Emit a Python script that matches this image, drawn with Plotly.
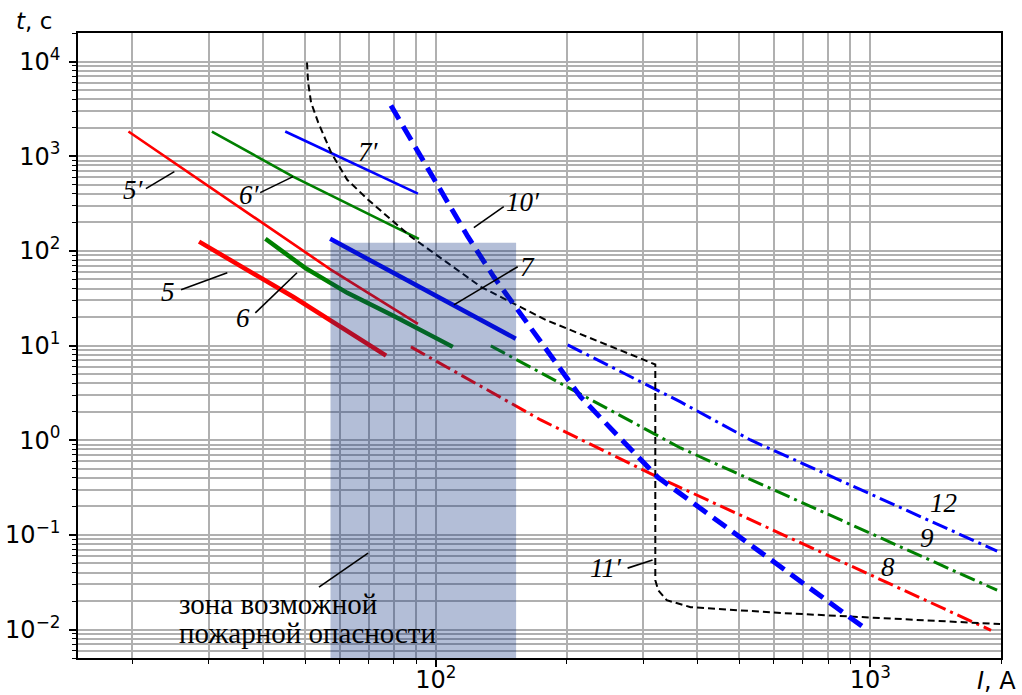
import numpy as np
import plotly.graph_objects as go

# Time-current characteristics: current I (A) and time t (s)
I_5p = [19.6, 57.4, 90.9]
t_5p = [1820, 63, 16.9]
I_5 = [28.5, 47.0, 76.8]
t_5 = [125, 32.5, 7.8]
I_6p = [30.5, 46.9, 80.1, 91.4]
t_6p = [1820, 608, 180, 134]
I_6 = [40.5, 50.0, 62.5, 80.0, 109.4]
t_6 = [134, 66.0, 36.0, 20.5, 9.67]
I_7p = [45.0, 90.9]
t_7p = [1820, 402]
I_7 = [57.1, 110.0, 152.7]
t_7 = [134, 26.9, 11.8]
I_8 = [87.6, 174.3, 323.8, 1897]
t_8 = [9.67, 1.635, 0.408, 0.0098]
I_9 = [133.8, 174.3, 365.8, 1959]
t_9 = [9.92, 5.14, 0.827, 0.026]
I_12 = [201.1, 365.8, 529.8, 1959]
t_12 = [10.16, 2.535, 1.005, 0.0673]
I_10p = [78.8, 118.5, 135.9, 183.8, 215.4, 323.8, 963.6]
t_10p = [3424, 141, 53.2, 7.59, 2.86, 0.408, 0.0106]
I_11p = [50.5, 50.8, 51.6, 53.6, 57.4, 62.5, 69.8, 78.6, 87.6, 106.0, 126.9, 179.6, 320,
         320, 325, 340, 386, 631, 1990]
t_11p = [9760, 6000, 3690, 2264, 1090, 563, 347, 214, 141, 75.5, 41.7, 18.5, 6.3,
         0.0332, 0.026, 0.0204, 0.0172, 0.0149, 0.0114]

# Fire-hazard zone (current band and upper time bound)
ZONE_I = [57.2, 153]
ZONE_T_TOP = 122

# Axis limits
I_RANGE = [15, 2000]
T_RANGE = [0.005, 20000]

# Curve labels: text, I, t
LABELS = [
    ("5′", 20.1, 443), ("6′", 37.2, 392), ("7′", 69.8, 1117), ("10′", 158.5, 331),
    ("7", 162.7, 68), ("5", 24.2, 36.9), ("6", 36.0, 19.6), ("11′", 246, 0.0445),
    ("12", 1472, 0.217), ("9", 1352, 0.0924), ("8", 1100, 0.0456),
]
# Leader lines: (I0, I1), (t0, t1)
LEADERS = [
    ((21.5, 25.0), (454, 686)),
    ((39.4, 46.9), (412, 608)),
    ((143.3, 122.3), (293, 175.5)),
    ((154.3, 110.0), (67.9, 26.9)),
    ((25.9, 33.1), (38.8, 58.7)),
    ((38.4, 47.9), (22.1, 58.7)),
    ((276.3, 315.4), (0.0445, 0.0541)),
    ((53.8, 69.8), (0.028, 0.0641)),
]
ZONE_LINES = ["зона возможной", "пожарной опасности"]
ZONE_TEXT_I = 26.1
ZONE_TEXT_T = [0.0187, 0.00924]

RED, GREEN, BLUE = "rgb(255,0,0)", "rgb(0,128,0)", "rgb(0,0,255)"
DASHDOT = "16px,5px,3px,5px"

fig = go.Figure()


def curve(I, t, color, width, dash="solid"):
    fig.add_trace(go.Scatter(x=I, y=t, mode="lines",
                             line=dict(color=color, width=width, dash=dash),
                             hoverinfo="skip", showlegend=False))


curve(I_5p, t_5p, RED, 2.6)
curve(I_5, t_5, RED, 4.5)
curve(I_6p, t_6p, GREEN, 2.6)
curve(I_6, t_6, GREEN, 4.5)
curve(I_7p, t_7p, BLUE, 2.6)
curve(I_7, t_7, BLUE, 4.5)
curve(I_8, t_8, RED, 3, DASHDOT)
curve(I_9, t_9, GREEN, 3, DASHDOT)
curve(I_12, t_12, BLUE, 3, DASHDOT)
curve(I_11p, t_11p, "black", 2, "7px,4px")
curve(I_10p, t_10p, BLUE, 5, "16px,8px")

# translucent zone drawn over the curves
fig.add_trace(go.Scatter(
    x=[ZONE_I[0], ZONE_I[1], ZONE_I[1], ZONE_I[0], ZONE_I[0]],
    y=[T_RANGE[0], T_RANGE[0], ZONE_T_TOP, ZONE_T_TOP, T_RANGE[0]],
    mode="lines", fill="toself", fillcolor="rgba(10,45,125,0.31)",
    line=dict(width=0), hoverinfo="skip", showlegend=False))

for (i0, i1), (t0, t1) in LEADERS:
    fig.add_trace(go.Scatter(x=[i0, i1], y=[t0, t1], mode="lines",
                             line=dict(color="black", width=1.6),
                             hoverinfo="skip", showlegend=False))

serif = "Liberation Serif"
for txt, i, t in LABELS:
    fig.add_annotation(x=np.log10(i), y=np.log10(t), text=f"<i>{txt}</i>",
                       showarrow=False, font=dict(family=serif, size=27, color="black"))

for line, t in zip(ZONE_LINES, ZONE_TEXT_T):
    fig.add_annotation(x=np.log10(ZONE_TEXT_I), y=np.log10(t), text=line,
                       showarrow=False, xanchor="left", yanchor="middle", xshift=-4,
                       borderpad=0,
                       font=dict(family=serif, size=29, color="black"))

sans = "DejaVu Sans"
fig.add_annotation(xref="paper", yref="paper", x=-0.069, y=1.019, xanchor="left",
                   yanchor="middle", text="<i>t</i>, с", showarrow=False,
                   font=dict(family=sans, size=23, color="black"))
fig.add_annotation(xref="paper", yref="paper", x=0.972, y=-0.037, xanchor="left",
                   yanchor="middle", text="<i>I</i>, А", showarrow=False,
                   font=dict(family=sans, size=24, color="black"))

GRID = "#b0b0b0"


def minor_vals(lo, hi):
    return [m * 10 ** k for k in range(lo, hi) for m in range(2, 10)]


xmaj = [100, 1000]
ymaj = [10.0 ** k for k in range(-2, 5)]
axis_common = dict(type="log", showline=True, linecolor="black", linewidth=1.6, mirror=True,
                   ticks="outside", ticklen=7, tickwidth=1.5, tickcolor="black",
                   showgrid=True, gridcolor=GRID, gridwidth=1.6, automargin=False,
                   tickfont=dict(family=sans, size=24, color="black"), tickmode="array")
minor_common = dict(tickmode="array", ticks="outside", ticklen=4, tickwidth=1.2,
                    tickcolor="black", showgrid=True, gridcolor=GRID, gridwidth=1.6)

fig.update_xaxes(range=[np.log10(I_RANGE[0]), np.log10(I_RANGE[1])],
                 tickvals=xmaj, ticktext=["10<sup>2</sup>", "10<sup>3</sup>"],
                 ticklabelstandoff=-8,
                 minor=dict(tickvals=minor_vals(1, 4), **minor_common),
                 **axis_common)
fig.update_yaxes(range=[np.log10(T_RANGE[0]), np.log10(T_RANGE[1])],
                 tickvals=ymaj, ticklabelstandoff=4,
                 ticktext=[f"10<sup>{k}</sup>" if k >= 0 else f"10<sup>−{-k}</sup>" for k in range(-2, 5)],
                 minor=dict(tickvals=minor_vals(-3, 5), **minor_common),
                 **axis_common)

fig.update_layout(width=1022, height=695, margin=dict(l=78, r=21, t=33, b=37),
                  paper_bgcolor="white", plot_bgcolor="white", showlegend=False)

fig.write_html("out.html")
